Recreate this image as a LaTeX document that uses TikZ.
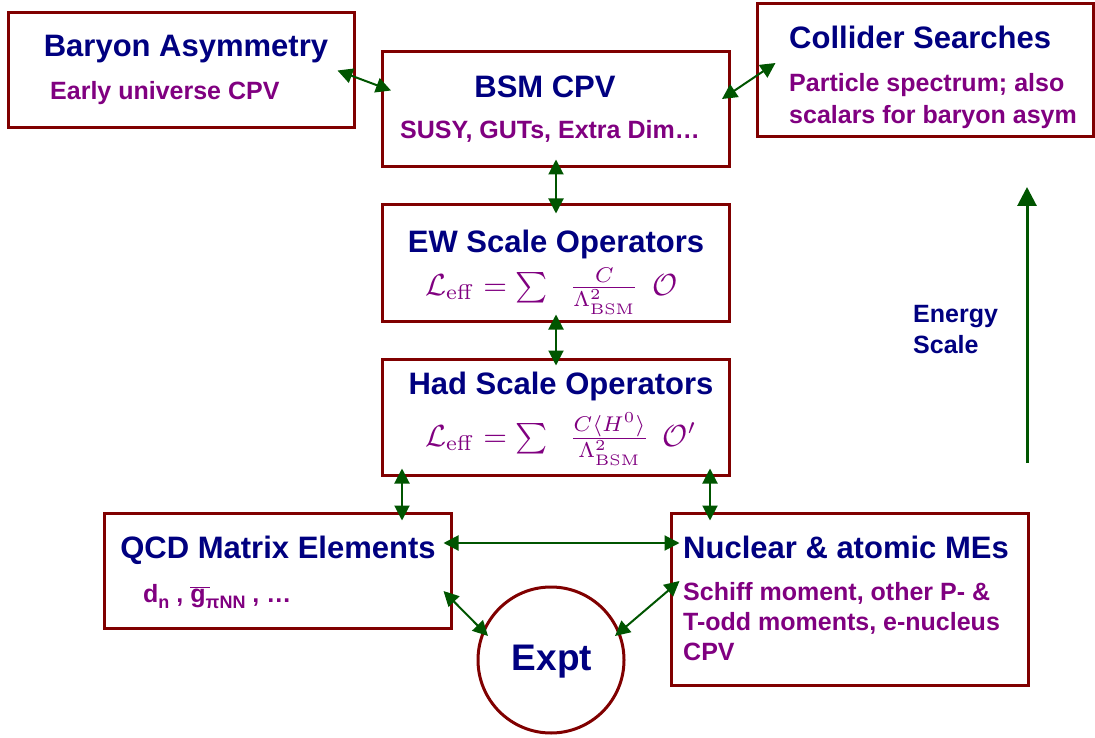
\documentclass[tikz,border=0pt]{standalone}
\usepackage{graphicx}
\usepackage[no-math]{fontspec}
\setmainfont{Liberation Sans}
\usetikzlibrary{arrows.meta,calc}
\definecolor{boxred}{RGB}{128,0,0}
\definecolor{navy}{RGB}{0,0,128}
\definecolor{purp}{RGB}{128,0,128}
\definecolor{dgreen}{RGB}{0,85,0}
\begin{document}
\begin{tikzpicture}[x=1pt,y=-1pt,
  box/.style={draw=boxred,line width=3pt,rectangle,inner sep=0pt},
  ttl/.style={text=navy,font=\fontsize{31}{34}\selectfont\bfseries,inner sep=0pt},
  sub/.style={text=purp,font=\fontsize{25}{30}\selectfont\bfseries,inner sep=0pt},
  frm/.style={text=purp,inner sep=0pt},
  conn/.style={draw=dgreen,line width=2pt,arrows={Triangle[length=15pt,width=15pt]-Triangle[length=15pt,width=15pt]}},
  escale/.style={draw=dgreen,line width=3pt,arrows={-Triangle[length=19pt,width=19pt]}}]
\useasboundingbox (0,0) rectangle (1095,738);
% boxes
\node[box,minimum width=346pt,minimum height=115pt] (bary) at (181,70.5) {};
\node[box,minimum width=347pt,minimum height=115pt] (bsm) at (556,109.5) {};
\node[box,minimum width=336pt,minimum height=133pt] (coll) at (925,70.5) {};
\node[box,minimum width=347pt,minimum height=116pt] (ew) at (556,263) {};
\node[box,minimum width=347pt,minimum height=116pt] (had) at (556,417) {};
\node[box,minimum width=347pt,minimum height=115pt] (qcd) at (277.5,570.5) {};
\node[box,minimum width=357pt,minimum height=172pt] (nuc) at (849.5,599) {};
\node[draw=boxred,line width=3pt,circle,minimum size=146pt,inner sep=0pt] (expt) at (551,660) {};
% texts
\node[ttl,anchor=base] (baryT) at (186,57) {Baryon Asymmetry};
\node[sub,anchor=base west] (baryS) at (50,100) {Early universe CPV};
\node[ttl,anchor=base] (bsmT) at (545,98) {BSM CPV};
\node[sub,anchor=base] (bsmS) at (550,139) {SUSY, GUTs, Extra Dim…};
\node[ttl,anchor=base west] (collT) at (789,49) {Collider Searches};
\node[sub,anchor=base west] (collS1) at (789,92) {Particle spectrum; also};
\node[sub,anchor=base west] (collS2) at (789,124) {scalars for baryon asym};
\node[ttl,anchor=base] (ewT) at (556,252) {EW Scale Operators};
\node[frm,anchor=base west] (ewF) at (425,295) {\scalebox{3.05}{$\mathcal{L}_{\mathrm{eff}}=\sum\;\;\frac{C}{\Lambda^2_{\mathrm{BSM}}}\;\,\mathcal{O}$}};
\node[ttl,anchor=base] (hadT) at (561,394) {Had Scale Operators};
\node[frm,anchor=base west] (hadF) at (425,446) {\scalebox{3.05}{$\mathcal{L}_{\mathrm{eff}}=\sum\;\;\frac{C\langle H^0\rangle}{\Lambda^2_{\mathrm{BSM}}}\;\,\mathcal{O}'$}};
\node[ttl,anchor=base] (qcdT) at (278,558) {QCD Matrix Elements};
\node[sub,anchor=base west] (qcdS) at (143,602) {d\raisebox{-6pt}{\fontsize{18}{20}\selectfont n} , $\overline{\hbox{g\,}}$\kern-4pt\raisebox{-6pt}{\fontsize{18}{20}\selectfont πNN} , …};
\node[ttl,anchor=base west] (nucT) at (683,558) {Nuclear \& atomic MEs};
\node[sub,anchor=base west] (nucS1) at (683,600) {Schiff moment, other P- \&};
\node[sub,anchor=base west] (nucS2) at (683,630) {T-odd moments, e-nucleus};
\node[sub,anchor=base west] (nucS3) at (683,660) {CPV};
\node[text=navy,font=\fontsize{37}{40}\selectfont\bfseries,inner sep=0pt,anchor=base] (exptT) at (552,670) {Expt};
\node[text=navy,font=\fontsize{25}{30}\selectfont\bfseries,inner sep=0pt,anchor=base west] (en1) at (913,322) {Energy};
\node[text=navy,font=\fontsize{25}{30}\selectfont\bfseries,inner sep=0pt,anchor=base west] (en2) at (913,353) {Scale};
% connectors
\draw[conn] ($(bary.east)+(-18,0)$) -- ($(bsm.west)+(10,-19)$);
\draw[conn] ($(bsm.east)+(-9,-10.5)$) -- ($(coll.west)+(20,-7.5)$);
\draw[conn] ($(bsm.south)+(0,-9)$) -- ($(ew.north)+(0,10)$);
\draw[conn] ($(ew.south)+(0,-8)$) -- ($(had.north)+(0,8)$);
\draw[conn] ($(had.south)+(-154,-8)$) -- ($(qcd.north)+(124.5,9)$);
\draw[conn] ($(had.south)+(154,-8)$) -- ($(nuc.north)+(-139.5,9)$);
\draw[conn] ($(qcd.east)+(-9,-27.5)$) -- ($(nuc.west)+(10,-56)$);
\draw[conn] ($(qcd.east)+(-9,20.5)$) -- ($(expt.center)+(-63,-24)$);
\draw[conn] ($(nuc.west)+(10,-18)$) -- ($(expt.center)+(64,-24)$);
\coordinate (eLow) at (1027,463);
\coordinate (eHigh) at (1027,187);
\draw[escale] (eLow) -- (eHigh);
\end{tikzpicture}
\end{document}
